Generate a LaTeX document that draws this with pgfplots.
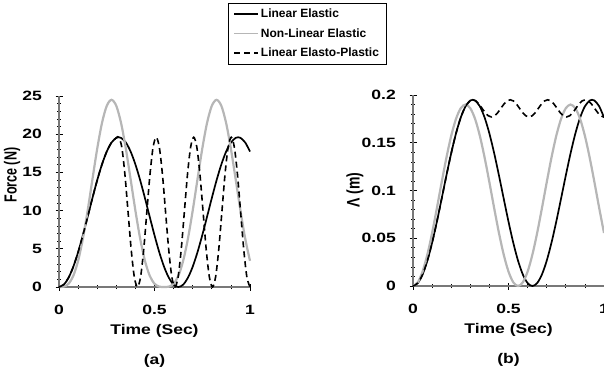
\documentclass[border=0pt]{standalone}
\usepackage{pgfplots}
\pgfplotsset{compat=1.18}
\usepackage{fontspec}
\setmainfont{Liberation Sans}
\definecolor{lg}{RGB}{182,182,182}
\definecolor{axg}{RGB}{120,120,120}
\begin{document}
\begin{tikzpicture}
\pgfplotsset{
  myax/.style={
    scale only axis, width=191pt, height=191pt,
    axis x line=bottom, axis y line=left,
    axis line style={-, draw=axg, line width=1.2pt},
    tick style={black, line width=0.7pt},
    tick align=center, major tick length=7pt, minor tick length=4pt,
    xmin=0, xmax=1, xtick={0,0.5,1}, minor x tick num=4,
    minor y tick num=4,
    clip=false,
    /pgf/number format/assume math mode=true,
    ticklabel style={font=\bfseries\fontsize{13.5}{15}\selectfont, xscale=1.3},
    xticklabel style={yshift=-11pt},
    yticklabel style={xshift=-7pt},
    label style={font=\bfseries\fontsize{14}{16}\selectfont},
    xlabel style={at={(axis description cs:0.5,-0.23)}, anchor=center, xscale=1.25},
    every axis plot/.append style={smooth},
  },
}
\begin{axis}[myax, at={(59pt,83pt)}, anchor=south west,
  ymin=0, ymax=25, ytick={0,5,10,15,20,25},
  xlabel={Time (Sec)}, ylabel={\scalebox{1}[1.4]{Force (N)}},
  ylabel style={at={(axis description cs:-0.246,0.586)}, anchor=center,
    font=\bfseries\fontsize{12.5}{14}\selectfont},
  legend style={at={(axis description cs:0.885,1.487)}, anchor=north west,
    draw=black, fill=white,
    font=\bfseries\fontsize{12}{14}\selectfont,
    inner xsep=5pt, inner ysep=4pt, row sep=5pt},
  legend cell align=left,
  legend image code/.code={\draw[#1, sharp plot, line width=1.7pt] (0pt,0pt) -- (24pt,0pt);},
]
\addplot[black, line width=1.7pt] coordinates {
(0,0) (0.025,0.308) (0.05,1.212) (0.075,2.656) (0.1,4.549) (0.125,6.772)
(0.15,9.185) (0.175,11.636) (0.2,13.973) (0.225,16.047) (0.25,17.728)
(0.275,18.912) (0.3,19.523) (0.3125,19.6) (0.325,19.523) (0.35,18.912)
(0.375,17.728) (0.4,16.047) (0.425,13.973) (0.45,11.636) (0.475,9.185)
(0.5,6.772) (0.525,4.549) (0.55,2.656) (0.575,1.212) (0.6,0.308) (0.625,0)
(0.65,0.308) (0.675,1.212) (0.7,2.656) (0.725,4.549) (0.75,6.772)
(0.775,9.185) (0.8,11.636) (0.825,13.973) (0.85,16.047) (0.875,17.728)
(0.9,18.912) (0.925,19.523) (0.9375,19.6) (0.95,19.523) (0.975,18.912) (1.0,17.728)
};
\addlegendentry{Linear Elastic}
\addplot[lg, line width=2.2pt] coordinates {
(0,0) (0.025,0.048) (0.05,0.425) (0.075,1.473) (0.1,3.423) (0.125,6.322)
(0.15,10.0) (0.175,14.09) (0.2,18.094) (0.225,21.463) (0.25,23.711)
(0.275,24.5) (0.3,23.711) (0.325,21.463) (0.35,18.094) (0.375,14.09)
(0.4,10.0) (0.425,6.322) (0.45,3.423) (0.475,1.473) (0.5,0.425)
(0.525,0.048) (0.55,0) (0.575,0.048) (0.6,0.425) (0.625,1.473)
(0.65,3.423) (0.675,6.322) (0.7,10.0) (0.725,14.09) (0.75,18.094)
(0.775,21.463) (0.8,23.711) (0.825,24.5) (0.85,23.711) (0.875,21.463)
(0.9,18.094) (0.925,14.09) (0.95,10.0) (0.975,6.322) (1.0,3.423)
};
\addlegendentry{Non-Linear Elastic}
\addplot[black, line width=1.6pt, dash pattern=on 6pt off 4pt] coordinates {
(0,0) (0.025,0.308) (0.05,1.212) (0.075,2.656) (0.1,4.549) (0.125,6.772)
(0.15,9.185) (0.175,11.636) (0.2,13.973) (0.225,16.047) (0.25,17.728)
(0.275,18.912) (0.3,19.523) (0.3125,19.6)
(0.3289,18.287) (0.3452,14.7) (0.3616,9.8) (0.378,4.9) (0.3943,1.313) (0.4107,0)
(0.4271,1.313) (0.4435,4.9) (0.4598,9.8) (0.4762,14.7) (0.4926,18.287) (0.5089,19.6)
(0.5253,18.287) (0.5417,14.7) (0.558,9.8) (0.5744,4.9) (0.5908,1.313) (0.6071,0)
(0.6235,1.313) (0.6399,4.9) (0.6562,9.8) (0.6726,14.7) (0.689,18.287) (0.7054,19.6)
(0.7217,18.287) (0.7381,14.7) (0.7545,9.8) (0.7708,4.9) (0.7872,1.313) (0.8036,0)
(0.8199,1.313) (0.8363,4.9) (0.8527,9.8) (0.869,14.7) (0.8854,18.287) (0.9018,19.6)
(0.9181,18.287) (0.9345,14.7) (0.9509,9.8) (0.9673,4.9) (0.9836,1.313) (1.0,0)
};
\addlegendentry{Linear Elasto-Plastic}
\node[font=\bfseries\fontsize{14}{16}\selectfont, xscale=1.25] at (axis description cs:0.5,-0.385) {(a)};
\end{axis}
\begin{axis}[myax, at={(413pt,84pt)}, anchor=south west,
  ymin=0, ymax=0.2, ytick={0,0.05,0.1,0.15,0.2},
  yticklabel style={/pgf/number format/fixed, /pgf/number format/precision=2},
  xlabel={Time (Sec)}, ylabel={\scalebox{1}[1.3]{Λ (m)}},
  ylabel style={at={(axis description cs:-0.304,0.503)}, anchor=center,
    font=\bfseries\fontsize{14}{16}\selectfont},
]
\addplot[black, line width=1.7pt] coordinates {
(0,0) (0.025,0.00306) (0.05,0.01206) (0.075,0.02642) (0.1,0.04526) (0.125,0.06737)
(0.15,0.09138) (0.175,0.11577) (0.2,0.13902) (0.225,0.15965) (0.25,0.17637)
(0.275,0.18815) (0.3,0.19423) (0.3125,0.195) (0.325,0.19423) (0.35,0.18815)
(0.375,0.17637) (0.4,0.15965) (0.425,0.13902) (0.45,0.11577) (0.475,0.09138)
(0.5,0.06737) (0.525,0.04526) (0.55,0.02642) (0.575,0.01206) (0.6,0.00306) (0.625,0)
(0.65,0.00306) (0.675,0.01206) (0.7,0.02642) (0.725,0.04526) (0.75,0.06737)
(0.775,0.09138) (0.8,0.11577) (0.825,0.13902) (0.85,0.15965) (0.875,0.17637)
(0.9,0.18815) (0.925,0.19423) (0.9375,0.195) (0.95,0.19423) (0.975,0.18815) (1.0,0.17637)
};
\addplot[lg, line width=2.2pt] coordinates {
(0,0) (0.025,0.00385) (0.05,0.01508) (0.075,0.03279) (0.1,0.05554) (0.125,0.08148)
(0.15,0.10852) (0.175,0.13446) (0.2,0.15721) (0.225,0.17492) (0.25,0.18615)
(0.275,0.19) (0.3,0.18615) (0.325,0.17492) (0.35,0.15721) (0.375,0.13446)
(0.4,0.10852) (0.425,0.08148) (0.45,0.05554) (0.475,0.03279) (0.5,0.01508)
(0.525,0.00385) (0.55,0) (0.575,0.00385) (0.6,0.01508) (0.625,0.03279)
(0.65,0.05554) (0.675,0.08148) (0.7,0.10852) (0.725,0.13446) (0.75,0.15721)
(0.775,0.17492) (0.8,0.18615) (0.825,0.19) (0.85,0.18615) (0.875,0.17492)
(0.9,0.15721) (0.925,0.13446) (0.95,0.10852) (0.975,0.08148) (1.0,0.05554)
};
\addplot[black, line width=1.6pt, dash pattern=on 6pt off 4pt] coordinates {
(0,0) (0.025,0.00306) (0.05,0.01206) (0.075,0.02642) (0.1,0.04526) (0.125,0.06737)
(0.15,0.09138) (0.175,0.11577) (0.2,0.13902) (0.225,0.15965) (0.25,0.17637)
(0.275,0.18815) (0.3,0.19423) (0.3125,0.195)
(0.3289,0.1938) (0.3452,0.1905) (0.3616,0.186) (0.378,0.1815) (0.3943,0.1782) (0.4107,0.177)
(0.4271,0.1782) (0.4435,0.1815) (0.4598,0.186) (0.4762,0.1905) (0.4926,0.1938) (0.5089,0.195)
(0.5253,0.1938) (0.5417,0.1905) (0.558,0.186) (0.5744,0.1815) (0.5908,0.1782) (0.6071,0.177)
(0.6235,0.1782) (0.6399,0.1815) (0.6562,0.186) (0.6726,0.1905) (0.689,0.1938) (0.7054,0.195)
(0.7217,0.1938) (0.7381,0.1905) (0.7545,0.186) (0.7708,0.1815) (0.7872,0.1782) (0.8036,0.177)
(0.8199,0.1782) (0.8363,0.1815) (0.8527,0.186) (0.869,0.1905) (0.8854,0.1938) (0.9018,0.195)
(0.9181,0.1938) (0.9345,0.1905) (0.9509,0.186) (0.9673,0.1815) (0.9836,0.1782) (1.0,0.177)
};
\node[font=\bfseries\fontsize{14}{16}\selectfont, xscale=1.25] at (axis description cs:0.5,-0.385) {(b)};
\end{axis}
\pgfresetboundingbox
\path (0pt,0pt) rectangle (604pt,370pt);
\end{tikzpicture}
\end{document}
